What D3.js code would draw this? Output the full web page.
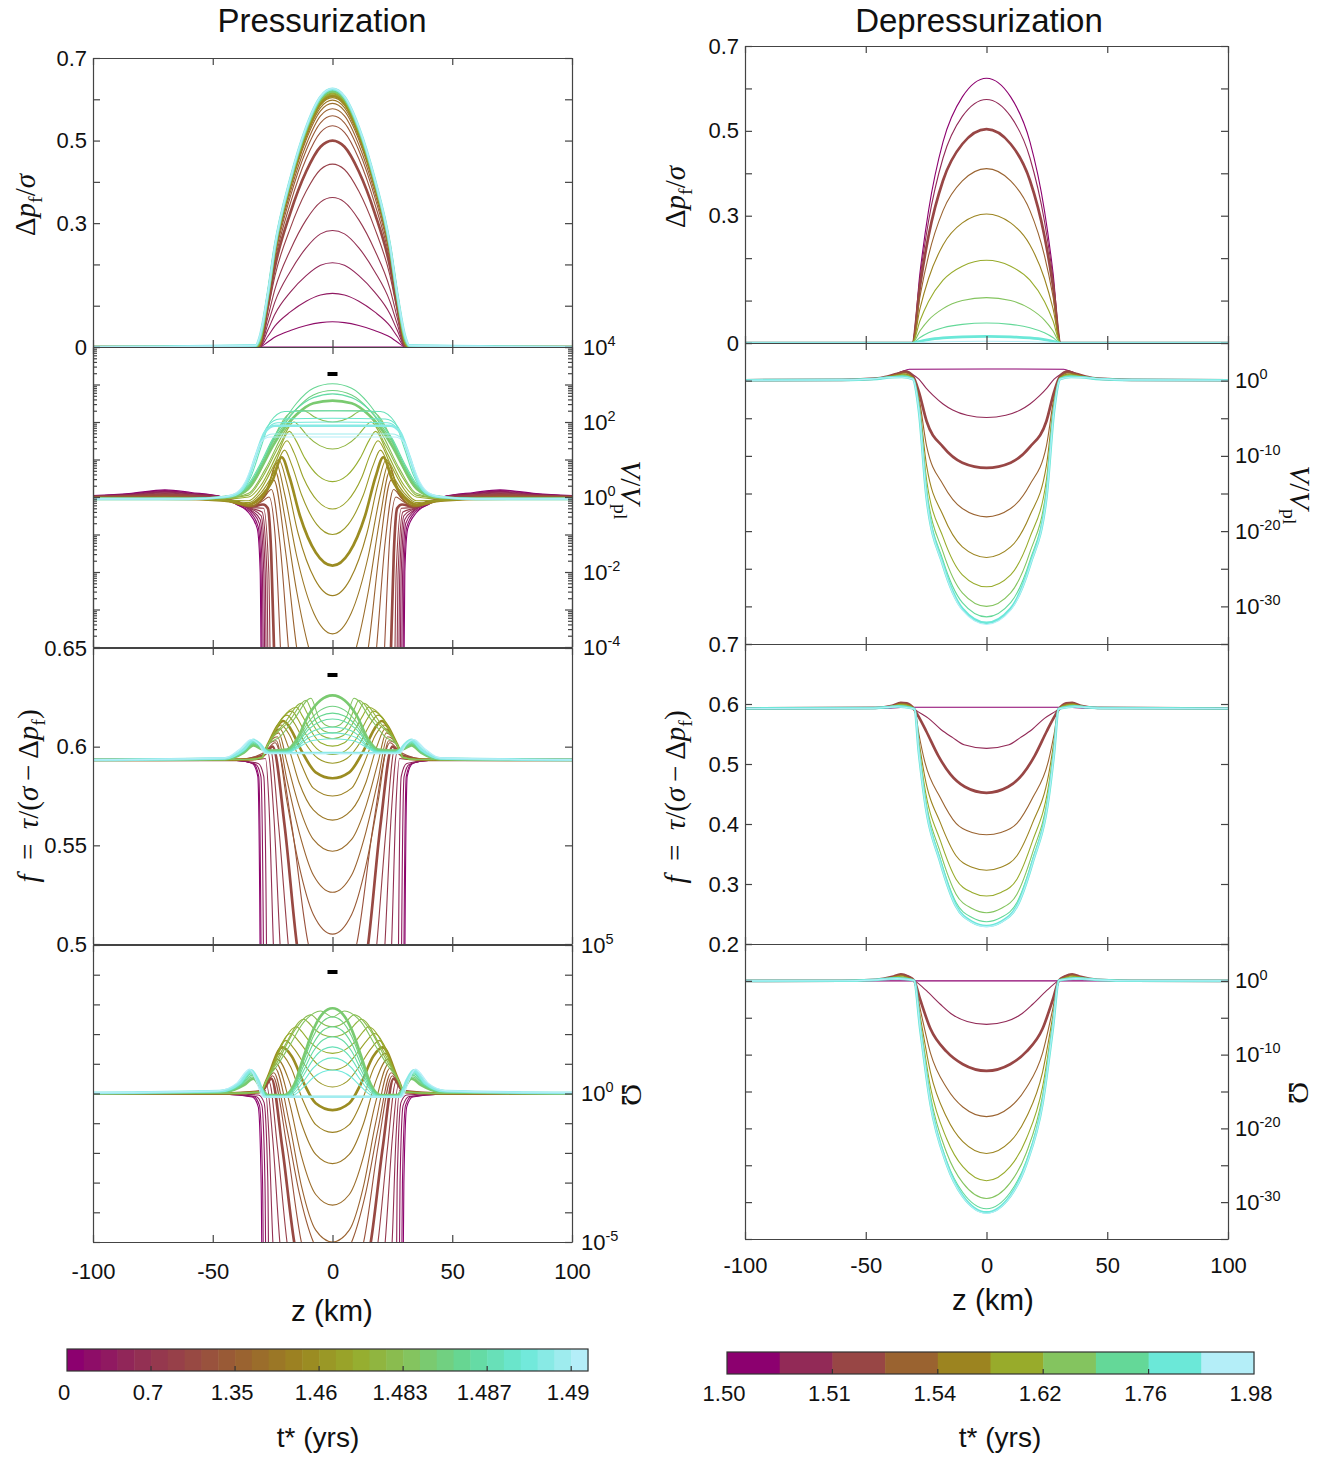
<!DOCTYPE html>
<html>
<head>
<meta charset="utf-8">
<script src="https://cdn.jsdelivr.net/npm/d3@7"></script>
<style>
  body { margin: 0; background: #fff; }
  svg text { font-family: "Liberation Sans", Arial, Helvetica, sans-serif; fill: #111; }
</style>
</head>
<body>
<svg id="fig" width="1334" height="1457"></svg>
<script>
// ---------------- data ----------------
const zTicks = [-100, -50, 0, 50, 100];
const mapStops = ["#8c006f", "#922a57", "#984645", "#9a6330", "#9c8420", "#98ab2b", "#84c45f", "#64d898", "#6be8d8", "#b4eef8"];
const pressTimeLabels = ["0", "0.7", "1.35", "1.46", "1.483", "1.487", "1.49"];
const depressTimeLabels = ["1.50", "1.51", "1.54", "1.62", "1.76", "1.98"];
const pressThick = [7, 14, 21, 28];
const depressThick = [2, 8];

const dpTicks = [0, 0.1, 0.2, 0.3, 0.4, 0.5, 0.6, 0.7];
const dpTickLabels = [0, 0.3, 0.5, 0.7];
const pressFTicks = [0.5, 0.55, 0.6, 0.65];
const depressFTicks = [0.2, 0.3, 0.4, 0.5, 0.6, 0.7];
const pressVDecades = [-4, -3, -2, -1, 0, 1, 2, 3, 4];
const pressVLabels = [-4, -2, 0, 2, 4];
const pressOmegaDecades = [-5, -4, -3, -2, -1, 0, 1, 2, 3, 4, 5];
const pressOmegaLabels = [-5, 0, 5];
const depressLogTicks = [-35, -30, -25, -20, -15, -10, -5, 0, 5];
const depressLogLabels = [-30, -20, -10, 0];

// profiles are symmetric in z: only z >= 0 is stored (km)
// Pressurization, Δp_f/σ on a shared grid
const pressDpZ = [0, 5, 11, 17.6, 24, 27, 30.5, 32, 100];
const pressDp = [
  [0, 0, 0, 0, 0, 0, 0, 0, 0],
  [.061, .059, .052, .040, .024, .012, 0, 0, 0],
  [.13, .126, .111, .085, .051, .026, 0, 0, 0],
  [.204, .198, .173, .133, .080, .041, 0, 0, 0],
  [.282, .274, .240, .183, .110, .056, 0, 0, 0],
  [.362, .351, .308, .235, .141, .072, 0, 0, 0],
  [.443, .430, .377, .288, .173, .089, 0, 0, 0],
  [.50, .485, .425, .325, .195, .10, 0, 0, 0],
  [.536, .520, .456, .348, .209, .107, .002, 0, 0],
  [.56, .543, .476, .364, .218, .112, .003, 0, 0],
  [.577, .560, .490, .375, .225, .115, .004, 0, 0],
  [.59, .572, .502, .384, .230, .118, .005, 0, 0],
  [.598, .580, .508, .389, .233, .120, .006, 0, 0],
  [.604, .586, .513, .393, .236, .121, .007, 0, 0],
  [.608, .590, .517, .395, .237, .122, .008, 0, 0],
  [.611, .593, .519, .397, .238, .122, .009, 0, 0],
  [.613, .595, .521, .398, .239, .123, .010, .001, 0],
  [.615, .597, .523, .400, .240, .123, .011, .001, 0],
  [.617, .598, .524, .401, .241, .124, .012, .001, 0],
  [.618, .599, .525, .402, .241, .124, .013, .001, 0],
  [.619, .600, .526, .402, .242, .124, .014, .002, 0],
  [.620, .601, .527, .403, .242, .125, .015, .002, 0],
  [.621, .602, .528, .404, .243, .125, .016, .002, 0],
  [.622, .603, .529, .404, .243, .126, .017, .002, 0],
  [.623, .604, .530, .405, .244, .126, .018, .003, 0],
  [.624, .605, .530, .406, .244, .127, .019, .003, 0],
  [.624, .605, .531, .406, .245, .128, .020, .003, 0],
  [.625, .606, .531, .407, .245, .128, .021, .003, 0],
  [.625, .606, .532, .407, .246, .129, .022, .004, 0],
  [.626, .607, .532, .408, .246, .130, .023, .004, 0],
  [.626, .607, .533, .408, .247, .130, .024, .004, 0]
];

// Pressurization, log10(V/Vpl), knots [z, value]
const pressV = [
  [[0, -9], [29.2, -9], [30.2, -2], [31.4, -0.85], [35, -0.42], [40, -0.2], [46, 0], [59, 0.12], [70, 0.19], [85, 0.09], [100, 0.04]],
  [[0, -9], [28.8, -9], [29.8, -2], [31, -0.8], [34.5, -0.4], [40, -0.2], [46, 0], [59, 0.1], [70, 0.17], [85, 0.08], [100, 0.03]],
  [[0, -9], [28.2, -9], [29.3, -2], [30.6, -0.7], [34, -0.38], [40, -0.18], [46, 0], [59, 0.09], [70, 0.15], [85, 0.07], [100, 0.03]],
  [[0, -9], [27.6, -9], [28.7, -2], [30.2, -0.6], [34, -0.35], [40, -0.16], [46, 0], [59, 0.08], [70, 0.13], [85, 0.06], [100, 0.02]],
  [[0, -9], [27, -9], [28.1, -2], [29.8, -0.5], [34, -0.32], [40, -0.15], [46, -0.02], [59, 0.06], [70, 0.11], [85, 0.05], [100, 0.02]],
  [[0, -9], [26.2, -9], [27.4, -2], [29.4, -0.4], [34, -0.3], [40, -0.14], [46, -0.03], [59, 0.05], [70, 0.09], [85, 0.04], [100, 0.01]],
  [[0, -9], [25, -9], [26.6, -2], [28.8, -0.3], [34, -0.28], [40, -0.13], [46, -0.04], [59, 0.03], [70, 0.07], [85, 0.03], [100, 0]],
  [[0, -14], [18, -11], [24, -5], [25.6, -1.5], [27, -0.3], [29, -0.2], [34, -0.26], [40, -0.13], [46, -0.05], [59, 0.02], [70, 0.05], [85, 0.02], [100, 0]],
  [[0, -12], [15, -9], [21, -5], [24, -1], [26.5, 0], [29, -0.1], [34, -0.25], [40, -0.12], [50, -0.05], [70, 0.03], [100, 0]],
  [[0, -9], [12, -7], [18, -4.3], [22, -1.2], [25.5, 0.2], [29, -0.05], [34, -0.25], [40, -0.12], [50, -0.05], [70, 0.02], [100, -0.01]],
  [[0, -7], [10, -5.6], [15, -4], [19.5, -1.5], [24.5, 0.45], [28, 0.05], [34, -0.25], [40, -0.12], [50, -0.05], [70, 0.01], [100, -0.02]],
  [[0, -5.2], [10, -4], [15, -2.5], [20, -0.5], [24, 0.7], [28, 0.1], [34, -0.25], [40, -0.12], [50, -0.05], [70, 0], [100, -0.02]],
  [[0, -3.65], [7.8, -3.1], [15, -1.56], [20, 0.08], [23.5, 0.9], [27, 0.25], [30, -0.1], [35, -0.25], [45, -0.1], [60, -0.05], [100, -0.03]],
  [[0, -2.63], [7.4, -2.19], [14.4, -0.96], [19, 0.35], [22.5, 1.0], [26.5, 0.35], [30, -0.05], [35, -0.22], [45, -0.1], [60, -0.05], [100, -0.03]],
  [[0, -1.83], [7, -1.48], [13.6, -0.5], [18, 0.54], [21.2, 1.06], [25, 0.45], [30, 0], [35, -0.2], [45, -0.1], [60, -0.05], [100, -0.03]],
  [[0, -1.0], [6.6, -0.73], [12.8, 0.04], [17, 0.85], [20, 1.25], [24.5, 0.65], [30, 0.1], [35, -0.15], [45, -0.1], [60, -0.05], [100, -0.03]],
  [[0, -0.32], [6.3, -0.1], [12.2, 0.52], [16, 1.17], [19, 1.5], [24, 0.9], [30, 0.2], [35, -0.1], [45, -0.08], [60, -0.05], [100, -0.03]],
  [[0, 0.41], [6, 0.57], [11.5, 1.03], [15.3, 1.51], [18, 1.75], [23, 1.15], [30, 0.3], [35, 0], [45, -0.05], [60, -0.05], [100, -0.03]],
  [[0, 1.28], [5.3, 1.37], [10.2, 1.61], [13.6, 1.87], [16, 2.0], [22, 1.4], [30, 0.45], [35, 0.05], [45, -0.03], [60, -0.05], [100, -0.03]],
  [[0, 2.0], [4, 2.04], [7.7, 2.14], [10.2, 2.25], [12, 2.3], [20, 1.75], [28, 0.75], [35, 0.1], [45, -0.03], [60, -0.05], [100, -0.04]],
  [[0, 2.3], [15, 2.3], [20, 2.1], [25, 1.5], [30, 0.7], [35, 0.2], [42, 0], [60, -0.05], [100, -0.05]],
  [[0, 2.57], [8, 2.5], [15, 2.2], [20, 1.85], [25, 1.35], [30, 0.75], [35, 0.25], [42, 0.02], [60, -0.05], [100, -0.05]],
  [[0, 2.84], [8, 2.72], [15, 2.35], [20, 1.95], [25, 1.45], [30, 0.8], [35, 0.3], [42, 0.03], [60, -0.05], [100, -0.05]],
  [[0, 3.02], [8, 2.9], [15, 2.5], [20, 2.05], [25, 1.5], [30, 0.85], [35, 0.3], [42, 0.03], [60, -0.05], [100, -0.05]],
  [[0, 2.75], [8, 2.65], [15, 2.35], [20, 2.0], [25, 1.55], [30, 0.9], [35, 0.35], [42, 0.03], [60, -0.05], [100, -0.05]],
  [[0, 2.3], [20, 2.28], [26, 2.0], [30, 1.3], [34, 0.55], [38, 0.15], [45, 0], [60, -0.05], [100, -0.05]],
  [[0, 2.1], [22, 2.08], [27, 1.9], [31, 1.3], [35, 0.5], [39, 0.12], [45, 0], [60, -0.05], [100, -0.05]],
  [[0, 2.0], [23, 1.98], [27.5, 1.8], [31.5, 1.2], [35, 0.5], [39, 0.12], [45, 0], [60, -0.05], [100, -0.05]],
  [[0, 1.9], [24, 1.9], [28, 1.75], [32, 1.1], [35.5, 0.45], [39.5, 0.1], [45, 0], [60, -0.05], [100, -0.05]],
  [[0, 1.68], [25, 1.68], [29, 1.55], [32.5, 1.0], [36, 0.4], [40, 0.1], [46, 0], [60, -0.05], [100, -0.05]],
  [[0, 1.6], [26, 1.6], [30, 1.45], [33, 0.95], [36.5, 0.4], [40.5, 0.1], [46, 0], [60, -0.05], [100, -0.05]]
];

// Pressurization, f = τ/(σ − Δp_f)
const pressF = [
  [[0, .2], [29.2, .2], [30.2, .49], [31.2, .585], [33.5, .5915], [40, .593], [100, .5933]],
  [[0, .2], [28.8, .2], [29.8, .49], [30.8, .585], [33, .5915], [40, .593], [100, .5933]],
  [[0, .2], [27.8, .2], [28.8, .49], [29.9, .585], [32, .591], [40, .593], [100, .5933]],
  [[0, .2], [26.5, .2], [27.5, .49], [28.7, .585], [31, .5915], [40, .593], [100, .5933]],
  [[0, .3], [20, .36], [24.7, .5], [26.5, .57], [28, .594], [31, .5935], [40, .5933], [100, .5933]],
  [[0, .35], [15, .39], [21.9, .5], [24.5, .565], [27, .597], [30, .5945], [40, .5933], [100, .5933]],
  [[0, .4], [12, .43], [18.5, .5], [22.5, .56], [26, .599], [29.5, .595], [40, .5933], [100, .5933]],
  [[0, .44], [9, .46], [14.9, .5], [20, .56], [25, .6], [29, .5955], [40, .5933], [100, .5933]],
  [[0, .475], [6, .485], [10.1, .5], [17, .56], [24, .602], [28.5, .597], [40, .5933], [100, .5933]],
  [[0, .505], [8, .515], [14, .54], [19, .572], [23.5, .603], [27, .601], [29.5, .5945], [35, .5935], [100, .5933]],
  [[0, .5262], [8, .535], [14, .557], [19, .583], [23, .605], [27, .601], [29.5, .5945], [35, .5935], [100, .5933]],
  [[0, .547], [8, .553], [14, .57], [19, .592], [22.5, .607], [27, .601], [29.5, .5945], [35, .5935], [100, .5933]],
  [[0, .5628], [8, .568], [14, .582], [18.5, .6], [22, .609], [27, .601], [29.5, .5945], [35, .5935], [100, .5933]],
  [[0, .575], [8, .579], [13, .591], [18, .606], [21.5, .611], [27, .601], [29.5, .5945], [35, .5935], [100, .5933]],
  [[0, .584], [7, .587], [13, .598], [17.5, .609], [20.5, .613], [27, .601], [29.5, .5945], [35, .5935], [100, .5933]],
  [[0, .5916], [6, .594], [12, .603], [16, .612], [19, .616], [27, .601], [29.5, .5945], [35, .5935], [100, .5933]],
  [[0, .596], [5.5, .598], [11, .606], [14.5, .614], [17, .618], [27, .601], [29.5, .5945], [35, .5935], [100, .5933]],
  [[0, .6003], [5, .602], [9.5, .609], [12.8, .616], [15, .62], [27, .601], [29.5, .5945], [35, .5935], [100, .5933]],
  [[0, .604], [4.3, .6055], [8.3, .6115], [11, .618], [13, .622], [20, .612], [27, .601], [29.5, .5945], [35, .5935], [100, .5933]],
  [[0, .607], [3.6, .608], [7, .613], [9.4, .62], [11, .6235], [18, .613], [27, .601], [29.5, .5945], [35, .5935], [100, .5933]],
  [[0, .61], [3, .611], [6, .6155], [9, .6245], [16, .614], [22, .605], [27, .601], [29.5, .5945], [35, .5935], [100, .5933]],
  [[0, .626], [5, .6235], [10, .616], [15, .6035], [19, .5985], [26, .598], [30, .599], [33, .6007], [37, .597], [45, .5937], [100, .5933]],
  [[0, .6205], [5, .6185], [10, .6125], [15, .6025], [19, .598], [26, .5978], [30, .5993], [33, .6012], [37, .5972], [45, .5937], [100, .5933]],
  [[0, .617], [5, .6155], [10, .6105], [15, .6015], [19, .5978], [26, .5976], [30, .5996], [33, .6016], [37, .5975], [45, .5938], [100, .5933]],
  [[0, .614], [5, .6128], [10, .6088], [15, .601], [19, .5976], [26, .5974], [30, .6], [33, .602], [37, .5978], [45, .5938], [100, .5933]],
  [[0, .61], [5, .6092], [10, .6065], [15, .6], [19, .5974], [26, .5972], [30, .6003], [33, .6024], [37, .598], [45, .594], [100, .5933]],
  [[0, .607], [5, .6064], [10, .6045], [15, .5995], [19, .5972], [26, .597], [30, .6006], [33, .6028], [37, .5982], [45, .594], [100, .5933]],
  [[0, .604], [5, .6036], [10, .6025], [15, .599], [19, .597], [26, .5969], [30, .6008], [33, .6031], [37, .5985], [45, .594], [100, .5933]],
  [[0, .5968], [27, .5968], [30, .601], [33, .6034], [37, .5987], [45, .5941], [100, .5933]],
  [[0, .5966], [27.5, .5966], [30.5, .6012], [33.5, .6035], [38, .5988], [45, .5942], [100, .5933]],
  [[0, .5965], [28, .5965], [31, .6014], [34, .6036], [38.5, .599], [45, .5943], [100, .5933]]
];

// Pressurization, log10(Ω)
const pressOmega = [
  [[0, -12], [28.8, -12], [29.8, -3], [31, -0.45], [33.5, -0.12], [45, -0.02], [100, 0]],
  [[0, -12], [28.2, -12], [29.2, -3], [30.5, -0.4], [33, -0.1], [45, -0.02], [100, 0]],
  [[0, -12], [27.2, -12], [28.2, -3], [29.5, -0.4], [32, -0.1], [45, -0.02], [100, 0]],
  [[0, -12], [26, -12], [27, -3], [28.6, -0.3], [31, -0.05], [45, -0.01], [100, 0]],
  [[0, -11], [20, -9], [24.9, -5], [26.5, -1.5], [28, 0.1], [31, 0.02], [45, 0], [100, 0]],
  [[0, -10], [15, -8.5], [22, -5], [25, -1.5], [27.5, 0.3], [30.5, 0.05], [45, 0], [100, 0]],
  [[0, -9], [12, -7.5], [19, -5], [23, -1.8], [26.5, 0.4], [30, 0.08], [45, 0], [100, 0]],
  [[0, -8], [10, -7], [16, -5], [21, -1.8], [25.5, 0.5], [29.5, 0.08], [45, 0], [100, 0]],
  [[0, -7], [8, -6.2], [13, -5], [19, -1.8], [25, 0.6], [29.5, 0.08], [45, 0], [100, 0]],
  [[0, -5.8], [8, -5], [14, -3.3], [19, -1.2], [24.5, 0.7], [27.5, 0.4], [30, 0.05], [45, 0], [100, 0]],
  [[0, -5], [7, -4.6], [13, -3.1], [18, -1.0], [24, 0.85], [27.5, 0.42], [30, 0.05], [45, 0], [100, 0]],
  [[0, -3.76], [7, -3.4], [13, -2.1], [18, -0.3], [23.5, 1.0], [27.5, 0.45], [30, 0.05], [45, 0], [100, 0]],
  [[0, -2.36], [7, -2.05], [13, -1.0], [18, 0.4], [23, 1.15], [27.5, 0.45], [30, 0.05], [45, 0], [100, 0]],
  [[0, -1.31], [7, -1.05], [12.5, -0.2], [17.5, 0.9], [22, 1.35], [27.5, 0.45], [30, 0.05], [45, 0], [100, 0]],
  [[0, -0.56], [7, -0.33], [12, 0.35], [17, 1.25], [21, 1.55], [27.5, 0.45], [30, 0.05], [45, 0], [100, 0]],
  [[0, 0.22], [6, 0.4], [11.5, 0.95], [16, 1.5], [19.5, 1.78], [27.5, 0.45], [30, 0.05], [45, 0], [100, 0]],
  [[0, 0.79], [5.5, 0.93], [10.5, 1.38], [14.5, 1.8], [17.5, 2.02], [27.5, 0.45], [30, 0.05], [45, 0], [100, 0]],
  [[0, 1.35], [5, 1.46], [9.5, 1.75], [12.8, 2.08], [15, 2.25], [27.5, 0.45], [30, 0.05], [45, 0], [100, 0]],
  [[0, 1.91], [4, 1.98], [7.7, 2.18], [10.2, 2.4], [12, 2.5], [20, 1.6], [27.5, 0.45], [30, 0.05], [45, 0], [100, 0]],
  [[0, 2.25], [3, 2.3], [6, 2.45], [9, 2.65], [16, 2.1], [22, 1.2], [27.5, 0.45], [30, 0.05], [45, 0], [100, 0]],
  [[0, 2.58], [5, 2.78], [12, 2.4], [18, 1.6], [23, 0.95], [27.5, 0.45], [30, 0.05], [45, 0], [100, 0]],
  [[0, 2.87], [4, 2.7], [8, 2.15], [12, 1.25], [16, 0.3], [20, -0.05], [27, -0.05], [30, 0.2], [33, 0.5], [37, 0.28], [45, 0.05], [100, 0]],
  [[0, 2.58], [4, 2.43], [8, 1.93], [12, 1.1], [16, 0.25], [20, -0.07], [27, -0.07], [30, 0.25], [33.5, 0.56], [37.5, 0.3], [45, 0.06], [100, 0.01]],
  [[0, 2.25], [4, 2.12], [8, 1.68], [12, 0.95], [16, 0.2], [20, -0.08], [27, -0.08], [30.5, 0.3], [33.5, 0.62], [38, 0.3], [46, 0.06], [100, 0.01]],
  [[0, 1.91], [4, 1.8], [8, 1.42], [12, 0.78], [16, 0.15], [20, -0.09], [27.5, -0.09], [30.5, 0.35], [34, 0.66], [38, 0.32], [46, 0.07], [100, 0.01]],
  [[0, 1.57], [4, 1.48], [8, 1.16], [12, 0.62], [16, 0.1], [20, -0.1], [27.5, -0.1], [31, 0.4], [34, 0.7], [38.5, 0.32], [46, 0.07], [100, 0.02]],
  [[0, 1.2], [4, 1.12], [8, 0.86], [12, 0.42], [16, 0.02], [20, -0.1], [28, -0.1], [31, 0.42], [34, 0.73], [38.5, 0.33], [47, 0.07], [100, 0.02]],
  [[0, 0.79], [4, 0.73], [8, 0.54], [12, 0.22], [16, -0.05], [20, -0.11], [28, -0.11], [31, 0.45], [34, 0.76], [39, 0.33], [47, 0.08], [100, 0.02]],
  [[0, -0.11], [28, -0.11], [31, 0.45], [34, 0.78], [39, 0.34], [47, 0.08], [100, 0.02]],
  [[0, -0.12], [28.5, -0.12], [31.5, 0.45], [34.3, 0.8], [39.5, 0.34], [48, 0.08], [100, 0.02]],
  [[0, -0.12], [29, -0.12], [32, 0.45], [34.6, 0.82], [40, 0.35], [48, 0.09], [100, 0.03]]
];

// Depressurization, Δp_f/σ on a shared grid
const depressDpZ = [0, 10, 18, 24, 27.5, 30.7, 100];
const depressDp = [
  [.624, .580, .474, .312, .168, 0, 0],
  [.574, .534, .436, .287, .155, 0, 0],
  [.504, .469, .383, .252, .136, 0, 0],
  [.411, .382, .312, .206, .111, 0, 0],
  [.304, .283, .231, .152, .082, 0, 0],
  [.195, .181, .148, .098, .053, 0, 0],
  [.107, .100, .081, .054, .029, 0, 0],
  [.047, .044, .036, .024, .013, 0, 0],
  [.0157, .0146, .0119, .0079, .0042, 0, 0],
  [.004, .0037, .003, .002, .0011, 0, 0]
];

// Depressurization, log10(V/Vpl)
const depressV = [
  [[0, 1.55], [32, 1.52], [35, 1.2], [40, 0.55], [48, 0.2], [60, 0.08], [100, 0.05]],
  [[0, -4.9], [8, -4.6], [14, -3.9], [18, -3.1], [22, -2.0], [25, -1.0], [28, 0.2], [31, 0.9], [33.5, 1.3], [37, 0.95], [45, 0.3], [60, 0.1], [100, 0.05]],
  [[0, -11.6], [10, -10.9], [18, -8.8], [24.8, -5.4], [28, -1.5], [30.5, 0.6], [33.5, 1.2], [37, 0.9], [45, 0.3], [60, 0.1], [100, 0.05]],
  [[0, -18.1], [10, -17.0], [18, -13.8], [24.8, -8.7], [28, -2.2], [30.5, 0.5], [34, 1.05], [37.5, 0.8], [45, 0.3], [60, 0.1], [100, 0.05]],
  [[0, -23.5], [10, -22.1], [18, -17.9], [24.8, -11.3], [28, -2.8], [30.5, 0.4], [34, 0.9], [38, 0.7], [45, 0.3], [60, 0.1], [100, 0.05]],
  [[0, -27.4], [10, -25.8], [18, -20.8], [24.8, -13.2], [28, -3.3], [30.5, 0.35], [34, 0.8], [38, 0.6], [46, 0.25], [60, 0.1], [100, 0.05]],
  [[0, -30.0], [10, -28.2], [18, -22.8], [24.8, -14.4], [28, -3.6], [30.5, 0.3], [34.5, 0.7], [38.5, 0.55], [46, 0.25], [60, 0.1], [100, 0.05]],
  [[0, -31.4], [10, -29.5], [18, -23.9], [24.8, -15.1], [28, -3.8], [30.5, 0.25], [34.5, 0.6], [39, 0.5], [47, 0.22], [60, 0.1], [100, 0.05]],
  [[0, -32.2], [10, -30.3], [18, -24.5], [24.8, -15.5], [28, -3.9], [30.5, 0.2], [35, 0.5], [39, 0.45], [47, 0.2], [60, 0.1], [100, 0.05]],
  [[0, -32.4], [10, -30.5], [18, -24.6], [24.8, -15.6], [28, -3.9], [30.5, 0.2], [35, 0.45], [39.5, 0.42], [48, 0.2], [60, 0.1], [100, 0.05]]
];

// Depressurization, f = τ/(σ − Δp_f)
const depressF = [
  [[0, .5945], [34, .5945], [40, .593], [100, .5925]],
  [[0, .526], [9.3, .532], [14, .544], [19, .558], [24, .576], [29, .589], [32, .598], [35, .602], [38, .598], [45, .594], [100, .5925]],
  [[0, .452], [9, .462], [15, .483], [20, .514], [25, .555], [28, .578], [30, .5915], [33, .601], [35.5, .602], [39, .597], [46, .5935], [100, .5925]],
  [[0, .382], [6, .386], [12.6, .401], [19, .443], [25.7, .506], [28, .55], [29.8, .5915], [33, .6], [35.5, .601], [39, .597], [46, .5935], [100, .5925]],
  [[0, .323], [6, .328], [12.6, .347], [19, .401], [25.7, .482], [28, .539], [29.8, .5915], [33, .599], [35.5, .6], [39, .5965], [46, .5933], [100, .5925]],
  [[0, .28], [6, .286], [12.6, .308], [19, .371], [25.7, .464], [28, .53], [29.8, .5915], [33, .598], [35.5, .599], [39.5, .596], [47, .5932], [100, .5925]],
  [[0, .252], [6, .259], [12.6, .283], [19, .351], [25.7, .453], [28, .524], [29.8, .5915], [33.5, .597], [36, .598], [40, .5955], [47, .593], [100, .5925]],
  [[0, .237], [6, .244], [12.6, .269], [19, .34], [25.7, .447], [28, .521], [29.8, .5915], [33.5, .596], [36, .597], [40, .595], [48, .593], [100, .5925]],
  [[0, .23], [6, .237], [12.6, .263], [19, .335], [25.7, .444], [28, .52], [29.8, .5915], [34, .595], [36.5, .596], [41, .5945], [48, .593], [100, .5925]],
  [[0, .229], [6, .236], [12.6, .262], [19, .334], [25.7, .443], [28, .519], [29.8, .5915], [34, .5945], [37, .5955], [41, .5943], [48, .593], [100, .5925]]
];

// Depressurization, log10(Ω)
const depressOmega = [
  [[0, 0], [100, 0]],
  [[0, -5.9], [8, -5.5], [14, -4.6], [19, -3.2], [24, -1.6], [28, -0.4], [30, 0.1], [32.5, 0.65], [35, 0.9], [38, 0.6], [45, 0.15], [60, 0.02], [100, 0]],
  [[0, -12.2], [9.8, -11.3], [16.5, -9.6], [23.2, -6.5], [27.4, -2.6], [30, 0.05], [32.5, 0.6], [35.5, 0.9], [39, 0.55], [46, 0.15], [60, 0.02], [100, 0]],
  [[0, -18.4], [9.8, -17.1], [16.5, -14.5], [23.2, -9.8], [27.4, -3.9], [30, 0.05], [33, 0.55], [35.5, 0.8], [39, 0.5], [46, 0.15], [60, 0.02], [100, 0]],
  [[0, -23.4], [9.8, -21.8], [16.5, -18.5], [23.2, -12.4], [27.4, -4.9], [30, 0.05], [33, 0.5], [35.5, 0.7], [39.5, 0.45], [46, 0.14], [60, 0.02], [100, 0]],
  [[0, -27.1], [9.8, -25.2], [16.5, -21.4], [23.2, -14.4], [27.4, -5.7], [30, 0.05], [33.5, 0.45], [36, 0.6], [40, 0.4], [47, 0.13], [60, 0.02], [100, 0]],
  [[0, -29.5], [9.8, -27.4], [16.5, -23.3], [23.2, -15.6], [27.4, -6.2], [30, 0.05], [33.5, 0.38], [36, 0.5], [40, 0.35], [47, 0.12], [60, 0.02], [100, 0]],
  [[0, -30.9], [9.8, -28.7], [16.5, -24.4], [23.2, -16.4], [27.4, -6.5], [30, 0.05], [34, 0.3], [36.5, 0.4], [41, 0.3], [48, 0.11], [60, 0.02], [100, 0]],
  [[0, -31.4], [9.8, -29.2], [16.5, -24.8], [23.2, -16.6], [27.4, -6.6], [30, 0.05], [34, 0.27], [37, 0.35], [41, 0.27], [48, 0.1], [60, 0.02], [100, 0]],
  [[0, -31.5], [9.8, -29.3], [16.5, -24.9], [23.2, -16.7], [27.4, -6.6], [30, 0.05], [34, 0.24], [37, 0.3], [41.5, 0.24], [48, 0.1], [60, 0.02], [100, 0]]
];

// ---------------- drawing ----------------
const svg = d3.select("#fig");
const axisColor = "#444";
const colormap = d3.piecewise(d3.interpolateRgb, mapStops);
const fmt = d => String(+(+d).toFixed(2));

function onGrid(grid, rows) { return rows.map(r => grid.map((z, i) => [z, r[i]])); }
function mirror(knots) {
  const left = knots.filter(d => d[0] > 0).map(d => [-d[0], d[1]]).reverse();
  return left.concat(knots);
}

function yAxis(g, y, side, xpos, spec, log) {
  const tv = spec.ticks.map(v => log ? Math.pow(10, v) : v);
  const ax = (side === "left" ? d3.axisLeft(y) : d3.axisRight(y))
    .tickValues(tv).tickSize(-7).tickSizeOuter(0).tickPadding(spec.pad)
    .tickFormat(d => {
      const v = log ? Math.round(Math.log10(d)) : d;
      return spec.labels.some(l => Math.abs(l - v) < 1e-9) ? (log ? "10" : fmt(v)) : "";
    });
  const a = g.append("g").attr("transform", `translate(${xpos},0)`).call(ax);
  a.attr("font-size", 22);
  if (log) {
    a.selectAll(".tick text").filter(function () { return this.textContent !== ""; })
      .append("tspan").attr("dy", "-0.6em").attr("font-size", "0.66em")
      .text(d => Math.round(Math.log10(d)));
  }
  if (spec.minor) {
    const minor = y.ticks().filter(d => Math.abs(Math.log10(d) - Math.round(Math.log10(d))) > 1e-6);
    g.append("g").attr("transform", `translate(${xpos},0)`)
      .call((side === "left" ? d3.axisLeft(y) : d3.axisRight(y)).tickValues(minor).tickSize(-4).tickSizeOuter(0).tickFormat(""));
  }
}

function drawPanel(p) {
  const x = d3.scaleLinear().domain([-100, 100]).range([p.x0, p.x1]);
  const y = (p.log ? d3.scaleLog().domain([Math.pow(10, p.dom[0]), Math.pow(10, p.dom[1])])
                   : d3.scaleLinear().domain(p.dom)).range([p.y1, p.y0]);
  const g = svg.append("g");
  const cid = "clip-" + p.name;
  svg.append("clipPath").attr("id", cid).append("rect")
    .attr("x", p.x0).attr("y", p.y0).attr("width", p.x1 - p.x0).attr("height", p.y1 - p.y0);

  const n = p.curves.length;
  const line = d3.line()
    .x(d => x(d[0]))
    .y(d => y(p.log ? Math.pow(10, d[1]) : d[1]))
    .curve(d3.curveMonotoneX);
  g.append("g").attr("clip-path", `url(#${cid})`)
    .selectAll("path").data(p.curves).join("path")
    .attr("d", d => line(mirror(d)))
    .attr("fill", "none")
    .attr("stroke", (d, i) => colormap(i / (n - 1)))
    .attr("stroke-width", (d, i) => p.thick.includes(i) ? 2.7 : 1.1)
    .attr("stroke-linejoin", "round");

  // frame & ticks
  g.append("g").attr("transform", `translate(0,${p.y0})`)
    .call(d3.axisTop(x).tickValues(zTicks).tickSize(-7).tickSizeOuter(0).tickFormat(""));
  const bottom = g.append("g").attr("transform", `translate(0,${p.y1})`)
    .call(d3.axisBottom(x).tickValues(zTicks).tickSize(-7).tickSizeOuter(0).tickPadding(p.xPad || 3)
      .tickFormat(p.xLabels ? d => String(d) : ""));
  bottom.attr("font-size", 22);
  yAxis(g, y, "left", p.x0, p.left, p.log);
  yAxis(g, y, "right", p.x1, p.right, p.log);
  g.selectAll(".domain, .tick line").attr("stroke", axisColor).attr("stroke-width", 1.2);
  g.selectAll("text").attr("fill", "#111").attr("font-family", null);

  if (p.dash) {
    g.append("rect").attr("x", x(0) - 5).attr("y", p.y0 + 25).attr("width", 10).attr("height", 4).attr("fill", "#000");
  }
  return { x, y };
}

function mathLabel(x, y, rot, parts, size) {
  const t = svg.append("text")
    .attr("transform", `translate(${x},${y}) rotate(${rot})`)
    .attr("text-anchor", "middle")
    .style("font-family", "'Liberation Serif','DejaVu Serif',serif")
    .attr("font-size", size).attr("fill", "#111");
  const sub = Math.round(size * 0.24);
  let shift = 0;
  parts.forEach(([s, k]) => {
    const ts = t.append("tspan").text(s);
    if (k === "i") ts.attr("font-style", "italic");
    if (k === "s") { ts.attr("font-size", size * 0.68).attr("dy", sub - shift); shift = sub; }
    else if (shift) { ts.attr("dy", -shift); shift = 0; }
  });
}

const linSpec = (ticks, labels, pad) => ({ ticks, labels, pad });

const LX0 = 93, LX1 = 572, RX0 = 745, RX1 = 1228;

// Pressurization column
drawPanel({ name: "p1", x0: LX0, x1: LX1, y0: 58, y1: 347, dom: [0, 0.7],
  curves: onGrid(pressDpZ, pressDp), thick: pressThick,
  left: linSpec(dpTicks, dpTickLabels, 6), right: linSpec(dpTicks, [], 7) });
drawPanel({ name: "p2", x0: LX0, x1: LX1, y0: 347, y1: 647, log: true, dom: [-4, 4],
  curves: pressV, thick: pressThick, dash: true,
  left: { ticks: pressVDecades, labels: [], pad: 7, minor: true },
  right: { ticks: pressVDecades, labels: pressVLabels, pad: 11, minor: true } });
drawPanel({ name: "p3", x0: LX0, x1: LX1, y0: 648, y1: 944, dom: [0.5, 0.65],
  curves: pressF, thick: pressThick, dash: true,
  left: linSpec(pressFTicks, pressFTicks, 6), right: linSpec(pressFTicks, [], 7) });
drawPanel({ name: "p4", x0: LX0, x1: LX1, y0: 945, y1: 1242, log: true, dom: [-5, 5],
  curves: pressOmega, thick: pressThick, dash: true, xLabels: true, xPad: 21,
  left: { ticks: pressOmegaDecades, labels: [], pad: 7 },
  right: { ticks: pressOmegaDecades, labels: pressOmegaLabels, pad: 9 } });

// Depressurization column
drawPanel({ name: "d1", x0: RX0, x1: RX1, y0: 46, y1: 343, dom: [0, 0.7],
  curves: onGrid(depressDpZ, depressDp), thick: depressThick,
  left: linSpec(dpTicks, dpTickLabels, 6), right: linSpec(dpTicks, [], 7) });
drawPanel({ name: "d2", x0: RX0, x1: RX1, y0: 343, y1: 644, log: true, dom: [-35, 5],
  curves: depressV, thick: depressThick,
  left: { ticks: depressLogTicks, labels: [], pad: 7 },
  right: { ticks: depressLogTicks, labels: depressLogLabels, pad: 7 } });
drawPanel({ name: "d3", x0: RX0, x1: RX1, y0: 644, y1: 944, dom: [0.2, 0.7],
  curves: depressF, thick: depressThick,
  left: linSpec(depressFTicks, depressFTicks, 6), right: linSpec(depressFTicks, [], 7) });
drawPanel({ name: "d4", x0: RX0, x1: RX1, y0: 944, y1: 1239, log: true, dom: [-35, 5],
  curves: depressOmega, thick: depressThick, xLabels: true, xPad: 18,
  left: { ticks: depressLogTicks, labels: [], pad: 7 },
  right: { ticks: depressLogTicks, labels: depressLogLabels, pad: 7 } });

// titles and axis titles
svg.append("text").attr("x", 322).attr("y", 32).attr("text-anchor", "middle").attr("font-size", 33).text("Pressurization");
svg.append("text").attr("x", 979).attr("y", 32).attr("text-anchor", "middle").attr("font-size", 33).text("Depressurization");
svg.append("text").attr("x", 332).attr("y", 1321).attr("text-anchor", "middle").attr("font-size", 29.5).text("z (km)");
svg.append("text").attr("x", 993).attr("y", 1310).attr("text-anchor", "middle").attr("font-size", 29.5).text("z (km)");

const dpLabel = [["Δ", "r"], ["p", "i"], ["f", "s"], ["/", "r"], ["σ", "i"]];
const fLabel = [["f", "i"], ["\u2002=\u2002", "r"], ["τ", "i"], ["/(", "r"], ["σ", "i"], ["\u2009−\u2009Δ", "r"], ["p", "i"], ["f", "s"], [")", "r"]];
const vLabel = [["V", "i"], ["/", "r"], ["V", "i"], ["pl", "s"]];
mathLabel(35, 205, -90, dpLabel, 29);
mathLabel(38, 796, -90, fLabel, 29);
mathLabel(621, 490, 90, vLabel, 29);
mathLabel(622, 1095, 90, [["Ω", "r"]], 30);
mathLabel(685, 197, -90, dpLabel, 29);
mathLabel(685, 797, -90, fLabel, 29);
mathLabel(1290, 495, 90, vLabel, 29);
mathLabel(1289, 1093, 90, [["Ω", "r"]], 30);

// colorbars
function colorbar(x0, x1, y0, h, nCells, tickEvery, labels, labelY) {
  const band = d3.scaleBand().domain(d3.range(nCells)).range([x0, x1]);
  const g = svg.append("g");
  g.selectAll("rect.cell").data(d3.range(nCells)).join("rect").attr("class", "cell")
    .attr("x", d => band(d)).attr("y", y0).attr("width", band.bandwidth() + 0.5).attr("height", h)
    .attr("fill", d => colormap(d / (nCells - 1)));
  g.append("rect").attr("x", x0).attr("y", y0).attr("width", x1 - x0).attr("height", h)
    .attr("fill", "none").attr("stroke", "#333").attr("stroke-width", 1.2);
  labels.forEach((lab, k) => {
    const xt = x0 + k * tickEvery * band.step();
    if (k > 0 && xt < x1 - 1) {
      g.append("line").attr("x1", xt).attr("x2", xt).attr("y1", y0 + h).attr("y2", y0 + h - 5)
        .attr("stroke", "#333").attr("stroke-width", 1.2);
    }
    g.append("text").attr("x", xt - 3).attr("y", labelY).attr("text-anchor", "middle")
      .attr("font-size", 22).text(lab);
  });
}
colorbar(67, 588, 1349, 22, 31, 5, pressTimeLabels, 1400);
colorbar(727, 1254, 1352, 22, 10, 2, depressTimeLabels, 1401);
svg.append("text").attr("x", 318).attr("y", 1447).attr("text-anchor", "middle").attr("font-size", 28).text("t* (yrs)");
svg.append("text").attr("x", 1000).attr("y", 1447).attr("text-anchor", "middle").attr("font-size", 28).text("t* (yrs)");
</script>
</body>
</html>
